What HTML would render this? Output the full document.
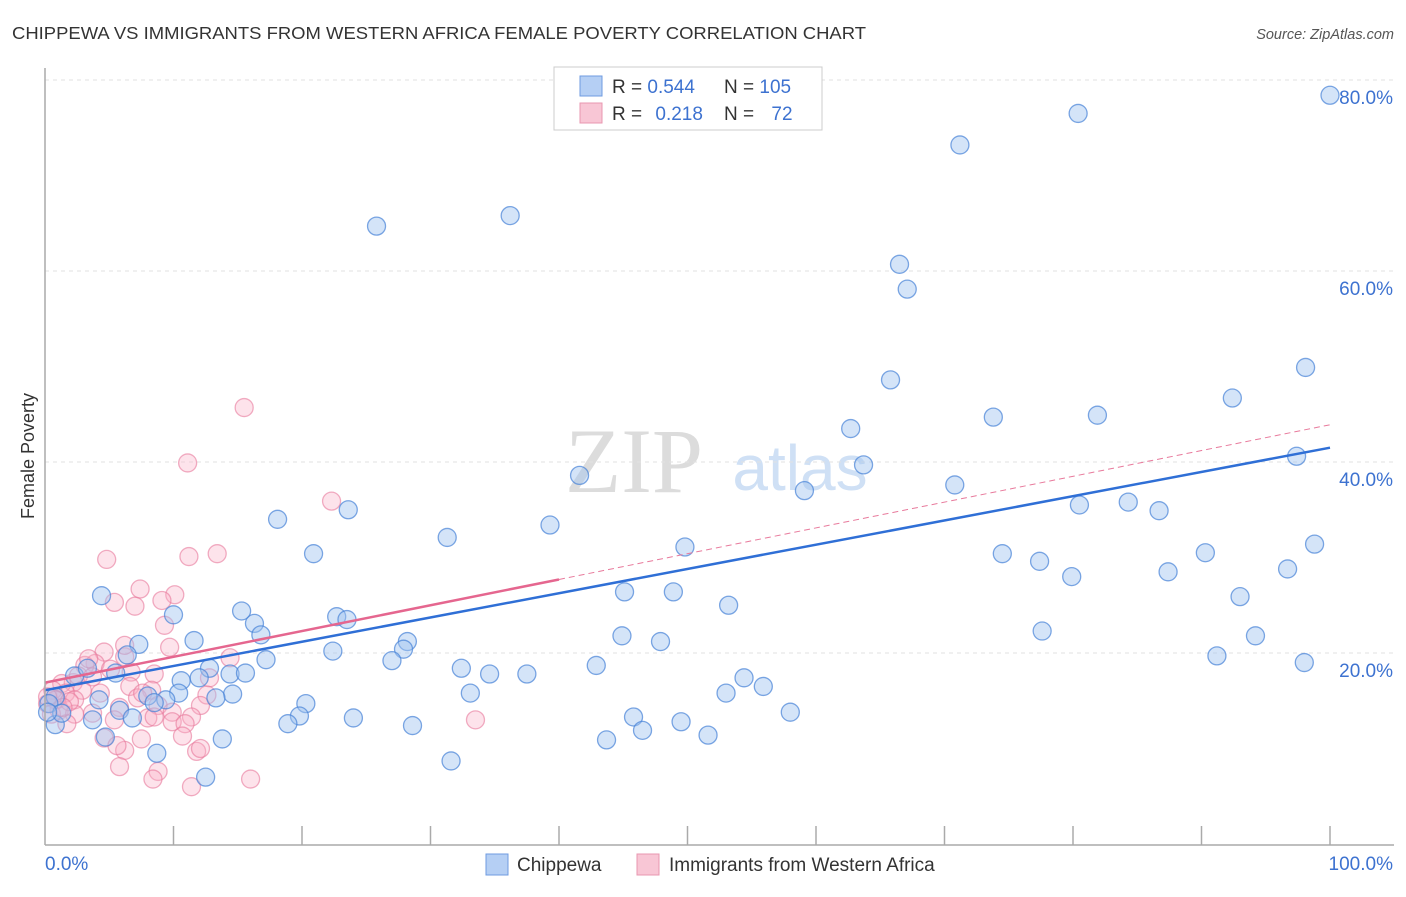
<!DOCTYPE html>
<html><head><meta charset="utf-8"><style>
body{margin:0;background:#fff;font-family:"Liberation Sans",sans-serif;}
svg text{font-family:"Liberation Sans",sans-serif;}
</style></head><body>
<svg id="c" width="1406" height="892" xmlns="http://www.w3.org/2000/svg">
<text x="12" y="39" font-size="17.5" fill="#333" textLength="854" lengthAdjust="spacingAndGlyphs">CHIPPEWA VS IMMIGRANTS FROM WESTERN AFRICA FEMALE POVERTY CORRELATION CHART</text>
<text x="1394" y="39" font-size="14.5" fill="#555" text-anchor="end" font-style="italic">Source: ZipAtlas.com</text>
<text x="634" y="492" font-size="92" fill="#dcdcdc" text-anchor="middle" font-family="Liberation Serif" style="font-family:'Liberation Serif',serif">ZIP</text>
<text x="800" y="490" font-size="64" fill="#cfe0f5" text-anchor="middle">atlas</text>
<text transform="translate(34,456) rotate(-90)" font-size="18" fill="#333" text-anchor="middle">Female Poverty</text>
<g id="grid"></g><g id="pts"></g><g id="lines"></g>
<line x1="45" y1="845" x2="1394" y2="845" stroke="#aaa" stroke-width="1.5"/>
<line x1="45" y1="68" x2="45" y2="845" stroke="#aaa" stroke-width="1.5"/>
<text x="45" y="870" font-size="19" fill="#3d72d0">0.0%</text>
<text x="1393" y="870" font-size="19" fill="#3d72d0" text-anchor="end">100.0%</text>
<g>
<rect x="554" y="67" width="268" height="63" fill="#fff" stroke="#ccc"/>
<rect x="580" y="76" width="22" height="20" fill="#b5cff4" stroke="#6f9be0"/>
<rect x="580" y="103" width="22" height="20" fill="#f8c6d5" stroke="#e897b0"/>
<text x="612" y="93" font-size="19" fill="#333">R = <tspan fill="#3d72d0">0.544</tspan></text>
<text x="724" y="93" font-size="19" fill="#333">N = <tspan fill="#3d72d0">105</tspan></text>
<text x="612" y="120" font-size="19" fill="#333">R = <tspan fill="#3d72d0" dx="8">0.218</tspan></text>
<text x="724" y="120" font-size="19" fill="#333">N = <tspan fill="#3d72d0" dx="12">72</tspan></text>
</g>
<g><rect x="486" y="854" width="22" height="21" fill="#b5cff4" stroke="#6f9be0"/><text x="517" y="871" font-size="19" fill="#333">Chippewa</text></g>
<g><rect x="637" y="854" width="22" height="21" fill="#f8c6d5" stroke="#e897b0"/><text x="669" y="871" font-size="19" fill="#333">Immigrants from Western Africa</text></g>
</svg>
<script>
const yTicks=[20,40,60,80];
const yTickLabels=["20.0%","40.0%","60.0%","80.0%"];
const xTicks=[10,20,30,40,50,60,70,80,90,100];
const blueX=[100,80.4,71.2,25.8,36.2,66.5,67.1,65.8,98.1,92.4,73.8,81.9,62.7,63.7,97.4,41.6,59.1,70.8,80.5,84.3,86.7,23.6,18.1,39.3,31.3,20.9,49.8,74.5,77.4,90.3,98.8,96.7,87.4,79.9,45.1,48.9,53.2,93.0,4.4,15.3,10.0,16.3,22.7,23.5,16.8,11.6,7.3,44.9,47.9,77.6,94.2,28.2,27.9,22.4,6.4,17.2,27.0,42.9,91.2,98.0,12.8,32.4,34.6,37.5,2.3,3.3,5.5,10.6,12.0,14.4,15.6,54.4,55.9,10.4,14.6,33.1,53.0,8.0,9.4,20.3,8.5,4.2,13.3,0.8,0.3,5.8,19.8,45.8,3.7,6.8,24.0,49.5,58.0,18.9,28.6,0.8,46.5,51.6,4.7,13.8,43.7,8.7,31.6,12.5,1.3,0.2];
const blueY=[78.4,76.5,73.2,64.7,65.8,60.7,58.1,48.6,49.9,46.7,44.7,44.9,43.5,39.7,40.6,38.6,37.0,37.6,35.5,35.8,34.9,35.0,34.0,33.4,32.1,30.4,31.1,30.4,29.6,30.5,31.4,28.8,28.5,28.0,26.4,26.4,25.0,25.9,26.0,24.4,24.0,23.1,23.8,23.5,21.9,21.3,20.9,21.8,21.2,22.3,21.8,21.2,20.4,20.2,19.8,19.3,19.2,18.7,19.7,19.0,18.4,18.4,17.8,17.8,17.6,18.4,17.9,17.1,17.4,17.8,17.9,17.4,16.5,15.8,15.7,15.8,15.8,15.5,15.1,14.7,14.8,15.1,15.3,15.4,14.7,14.0,13.4,13.3,13.0,13.2,13.2,12.8,13.8,12.6,12.4,12.5,11.9,11.4,11.2,11.0,10.9,9.5,8.7,7.0,13.7,13.8];
const pinkX=[15.5,11.1,22.3,13.4,11.2,4.8,7.4,10.1,5.4,9.1,7.0,9.3,9.7,4.6,6.2,14.4,3.9,3.1,5.1,8.5,6.7,12.8,2.2,2.9,1.3,6.6,8.3,1.6,4.3,12.6,7.2,7.6,0.6,0.9,2.3,8.8,12.1,5.8,0.2,1.1,2.3,3.7,9.9,8.0,8.5,11.4,5.4,9.9,10.9,33.5,1.7,10.7,4.6,7.5,6.2,11.8,5.6,12.1,8.8,5.8,8.4,11.4,16.0,0.8,0.2,1.9,0.5,2.6,3.7,6.2,3.4,1.4];
const pinkY=[45.7,39.9,35.9,30.4,30.1,29.8,26.7,26.1,25.3,25.5,24.9,22.9,20.6,20.1,19.6,19.5,18.9,18.7,18.3,17.8,18.0,17.4,16.9,16.1,16.8,16.5,16.1,15.8,15.8,15.6,15.3,15.8,16.1,15.1,15.1,14.5,14.5,14.3,14.7,14.0,13.6,13.7,13.8,13.2,13.3,13.3,13.0,12.8,12.6,13.0,12.6,11.3,11.1,11.0,9.8,9.7,10.3,10.0,7.6,8.1,6.8,6.0,6.8,15.1,15.4,14.9,13.6,17.6,17.5,20.8,19.4,14.3];
const blueFit=[16.1,41.5];
const pinkFit=[16.9,43.9];
const pinkFitSolidEnd=40;
const X=v=>45+v*12.85, Y=v=>844-v*9.55;
const NS="http://www.w3.org/2000/svg";
function mk(t,a,p){const e=document.createElementNS(NS,t);for(const k in a)e.setAttribute(k,a[k]);p.appendChild(e);return e;}
const grid=document.getElementById('grid'),pts=document.getElementById('pts'),lines=document.getElementById('lines');
yTicks.forEach((v,i)=>{
 const l=mk('line',{x1:45,x2:1394,y1:Y(v),y2:Y(v),stroke:'#e2e2e2','stroke-dasharray':'4,4'},grid);
 
 
 const t=mk('text',{x:1393,y:Y(v)+24,'font-size':19,fill:'#3d72d0','text-anchor':'end'},grid);
 t.textContent=yTickLabels[i];
 
 
});
xTicks.forEach(v=>{
 const l=mk('line',{x1:X(v),x2:X(v),y1:826,y2:845,stroke:'#aaa','stroke-width':1.5},grid);
 
 
});
pinkX.forEach((v,i)=>{
 const c=mk('circle',{cx:X(v),cy:Y(pinkY[i]),r:9,fill:'rgba(248,175,198,0.35)',stroke:'rgba(232,120,155,0.6)','stroke-width':1.3},pts);
 
 
});
blueX.forEach((v,i)=>{
 const c=mk('circle',{cx:X(v),cy:Y(blueY[i]),r:9,fill:'rgba(160,195,240,0.45)',stroke:'rgba(70,130,215,0.7)','stroke-width':1.3},pts);
 
 
});
const pv=x=>pinkFit[0]+(pinkFit[1]-pinkFit[0])*x/100;
let l=mk('line',{x1:X(0),y1:Y(blueFit[0]),x2:X(100),y2:Y(blueFit[1]),stroke:'#2f6fd6','stroke-width':2.5},lines);


l=mk('line',{x1:X(pinkFitSolidEnd),y1:Y(pv(pinkFitSolidEnd)),x2:X(100),y2:Y(pv(100)),stroke:'#e87a9c','stroke-width':1,'stroke-dasharray':'6,4'},lines);


l=mk('line',{x1:X(0),y1:Y(pv(0)),x2:X(pinkFitSolidEnd),y2:Y(pv(pinkFitSolidEnd)),stroke:'#e5668f','stroke-width':2.5},lines);


</script>
</body></html>
